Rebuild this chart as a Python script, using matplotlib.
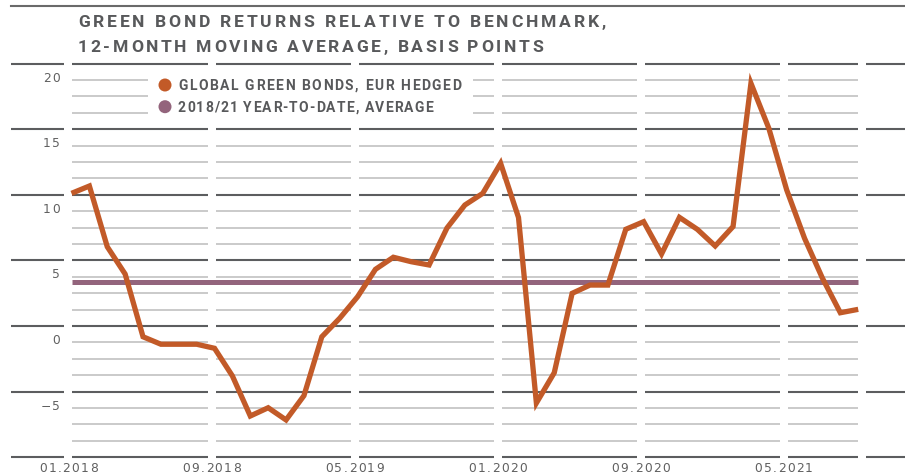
import matplotlib
matplotlib.use("Agg")
import matplotlib.pyplot as plt
from matplotlib.font_manager import FontProperties, findfont
from matplotlib.ft2font import FT2Font
from matplotlib.transforms import IdentityTransform
from matplotlib.patches import Circle, Rectangle

# ---------------- data ----------------
green_bonds = [11.36, 11.92, 7.29, 5.21, 0.43, -0.14, -0.14, -0.14, -0.45, -2.56,
               -5.61, -4.98, -5.91, -4.06, 0.43, 1.84, 3.48, 5.57, 6.49, 6.15,
               5.90, 8.72, 10.47, 11.36, 13.65, 9.52, -4.62, -2.31, 3.74, 4.37,
               4.37, 8.62, 9.20, 6.74, 9.53, 8.62, 7.35, 8.83, 19.75, 16.32,
               11.62, 7.93, 4.89, 2.26, 2.52]
average_value = 4.63
x_tick_labels = ["01.2018", "09.2018", "05.2019", "01.2020", "09.2020", "05.2021"]
x_tick_months = [0, 8, 16, 24, 32, 40]
y_tick_values = [20, 15, 10, 5, 0, -5]
y_tick_labels = ["20", "15", "10", "5", "0", "\u22125"]
title_lines = ["GREEN BOND RETURNS RELATIVE TO BENCHMARK,",
               "12-MONTH MOVING AVERAGE, BASIS POINTS"]
legend_labels = ["GLOBAL GREEN BONDS, EUR HEDGED", "2018/21 YEAR-TO-DATE, AVERAGE"]

# ---------------- style ----------------
W, H = 905, 476
ORANGE = "#c25a28"
PURPLE = "#93647c"
TEXT = "#58595b"
TICK = "#606060"
DARK = "#5c5d5f"
LIGHT = "#bcbcbc"

X0, DX = 71.5, 17.88      # pixel of month 0, pixels per month
Y0, DY = 342.4, 13.12     # pixel of value 0, pixels per unit

fig = plt.figure(figsize=(W / 100, H / 100), dpi=100)
ax = fig.add_axes([0, 0, 1, 1])
ax.set_xlim(-X0 / DX, (W - X0) / DX)
ax.set_ylim((Y0 - H) / DY, Y0 / DY)
ax.axis("off")

def kx(px):
    return (px - X0) / DX

# gridlines
dark_vals = [-8.75 + 5 * j for j in range(7)]
light_vals = [-8.75 + 1.25 * m for m in range(1, 24) if m % 4 != 0]
n = len(green_bonds)
for v in dark_vals:
    ax.plot([kx(11), kx(W)], [v, v], color=DARK, lw=1.5, zorder=1,
            solid_capstyle="butt", clip_on=False)
for v in light_vals:
    ax.plot([0, n - 1], [v, v], color=LIGHT, lw=1.1, zorder=1,
            solid_capstyle="butt")

# white vertical separators
gap_w = 8 / DX
for c in [m - 0.17 for m in x_tick_months] + [kx(861.5)]:
    ax.fill_betweenx([-9.5, 21.6], c - gap_w / 2, c + gap_w / 2,
                     color="white", lw=0, zorder=2)

# legend box
ax.add_patch(Rectangle((kx(148), (Y0 - 122) / DY), (473 - 148) / DX, 52 / DY,
                       facecolor="white", edgecolor="none", zorder=2))

# average line and series
ax.plot([0, n - 1], [average_value, average_value], color=PURPLE, lw=3.6,
        zorder=3, solid_capstyle="butt")
ax.plot(range(n), green_bonds, color=ORANGE, lw=3.8, zorder=4,
        solid_joinstyle="miter", solid_capstyle="butt")

# top rule
fig.add_artist(plt.Line2D([11, W], [H - 5.7, H - 5.7], color="#6a6a6a", lw=1.5,
                          transform=IdentityTransform()))

# ---------------- text helper with letter spacing ----------------
def spaced(x, y, s, family, weight, size, color, track=0.0, target=None, ha="left"):
    fp = FontProperties(family=family, weight=weight, size=size)
    font = FT2Font(findfont(fp))
    font.set_size(size, 100)
    adv = [font.load_char(ord(ch)).linearHoriAdvance / 65536 for ch in s]
    natural = sum(adv)
    if target is not None and len(s) > 1:
        track = (target - natural) / (len(s) - 1)
    total = natural + track * (len(s) - 1)
    if ha == "right":
        x0 = x - total
    elif ha == "center":
        x0 = x - total / 2
    else:
        x0 = x
    cx = x0
    for ch, a in zip(s, adv):
        if ch != " ":
            fig.text(cx, H - y, ch, fontproperties=fp, color=color,
                     transform=IdentityTransform(), ha="left", va="baseline")
        cx += a + track

# title
spaced(78, 27.3, title_lines[0], "Roboto", "bold", 12.6, TEXT, target=528)
spaced(78, 52.3, title_lines[1], "Roboto", "bold", 12.6, TEXT, target=465)

# legend
for i, (lab, col) in enumerate(zip(legend_labels, [ORANGE, PURPLE])):
    cy = 85 + 21.7 * i
    fig.add_artist(Circle((165, H - cy), 6.5, facecolor=col, edgecolor="none",
                          transform=IdentityTransform()))
    spaced(178, cy + 5, lab, "Roboto", "bold", 10.0, TEXT,
           target=[283, 255][i])

# y tick labels
for v, lab in zip(y_tick_values, y_tick_labels):
    spaced(60, Y0 - DY * v + 1.6, lab, "DejaVu Sans", "normal", 8.8, TICK,
           track=1.6, ha="right")

# x tick labels
for m, lab in zip(x_tick_months, x_tick_labels):
    spaced(X0 + DX * (m - 0.17), 472.5, lab, "DejaVu Sans", "normal", 8.8, TICK,
           track=1.3, ha="center")

fig.savefig("out.png", dpi=100)
